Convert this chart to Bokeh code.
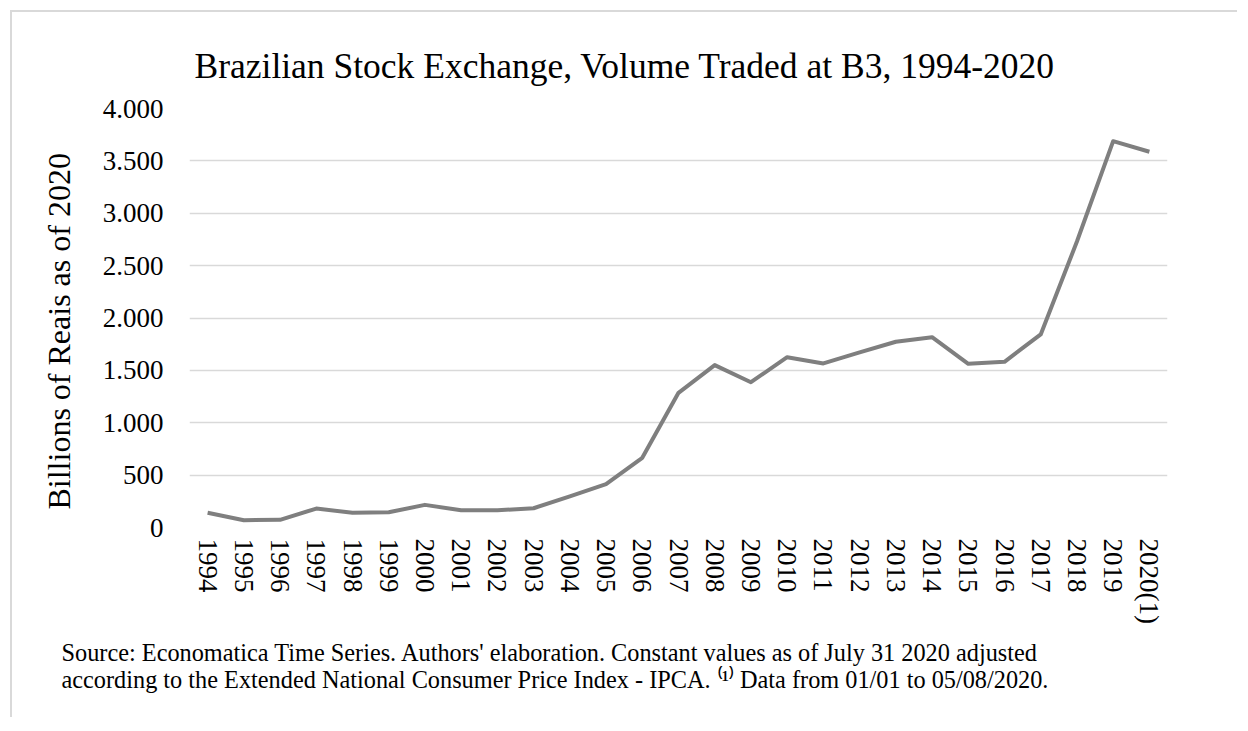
import math
from bokeh.plotting import figure
from bokeh.models import FactorRange, Range1d, FixedTicker, Title, ColumnDataSource
from bokeh.layouts import column
from bokeh.embed import file_html
from bokeh.resources import INLINE

years = ["1994", "1995", "1996", "1997", "1998", "1999", "2000", "2001", "2002",
         "2003", "2004", "2005", "2006", "2007", "2008", "2009", "2010", "2011",
         "2012", "2013", "2014", "2015", "2016", "2017", "2018", "2019", "2020(1)"]
volume = [140, 70, 73, 181, 140, 146, 216, 165, 165,
          184, 298, 415, 665, 1286, 1550, 1387, 1626, 1566,
          1672, 1773, 1817, 1563, 1582, 1843, 2730, 3688, 3587]
y_ticks = [0, 500, 1000, 1500, 2000, 2500, 3000, 3500, 4000]
y_tick_labels = ["0", "500", "1.000", "1.500", "2.000", "2.500", "3.000", "3.500", "4.000"]

title_text = "Brazilian Stock Exchange, Volume Traded at B3, 1994-2020"
y_label = "Billions of Reais as of 2020"
source_line1 = "Source: Economatica Time Series. Authors' elaboration. Constant values as of July 31 2020 adjusted"
source_line2 = "according to the Extended National Consumer Price Index - IPCA. \u207d\u00b9\u207e Data from 01/01 to 05/08/2020."

FONT = "Liberation Serif"

src = ColumnDataSource(dict(x=years, y=volume))

p = figure(width=1225, height=705, output_backend="svg", toolbar_location=None,
           x_range=FactorRange(*years, range_padding=0), y_range=Range1d(0, 4000),
           min_border_left=177, min_border_right=70, min_border_top=96, min_border_bottom=190)

p.title = Title(text=title_text, text_font=FONT, text_font_size="35.5px",
                text_font_style="normal", text_color="#000000", align="left",
                offset=5, standoff=45)

p.line(x="x", y="y", source=src, line_color="#7f7f7f", line_width=4, line_join="round")

p.outline_line_color = None
p.background_fill_color = "white"
p.border_fill_color = "white"
p.xgrid.grid_line_color = None
p.ygrid.grid_line_color = "#d9d9d9"
p.ygrid.grid_line_width = 1.5

ya = p.yaxis[0]
ya.ticker = FixedTicker(ticks=y_ticks)
ya.major_label_overrides = {t: l for t, l in zip(y_ticks, y_tick_labels)}
ya.axis_line_color = None
ya.major_tick_line_color = None
ya.minor_tick_line_color = None
ya.major_label_text_font = FONT
ya.major_label_text_font_size = "27px"
ya.major_label_text_color = "#000000"
ya.major_label_standoff = 20

xa = p.xaxis[0]
xa.axis_line_color = None
xa.major_tick_line_color = None
xa.minor_tick_line_color = None
xa.major_label_orientation = -math.pi / 2
xa.major_label_text_font = FONT
xa.major_label_text_font_size = "27px"
xa.major_label_text_color = "#000000"
xa.major_label_standoff = 5

# y-axis title as a side title (offset lets it sit a bit lower, as in the reference)
p.add_layout(Title(text=y_label, text_font=FONT, text_font_size="32px",
                   text_font_style="normal", text_color="#000000",
                   align="left", offset=18, standoff=45), "left")

# source note below the axis (two lines)
p.add_layout(Title(text=source_line1 + "\n" + source_line2, text_font=FONT,
                   text_font_size="24.3px", text_font_style="normal",
                   text_color="#000000", text_line_height=1.0,
                   align="left", offset=-128, standoff=20), "below")

layout = column(p, styles={"margin-left": "10px", "margin-top": "10px",
                           "border-left": "2px solid #d9d9d9",
                           "border-top": "2px solid #d9d9d9"})

open("out.html", "w").write(file_html(layout, INLINE))
